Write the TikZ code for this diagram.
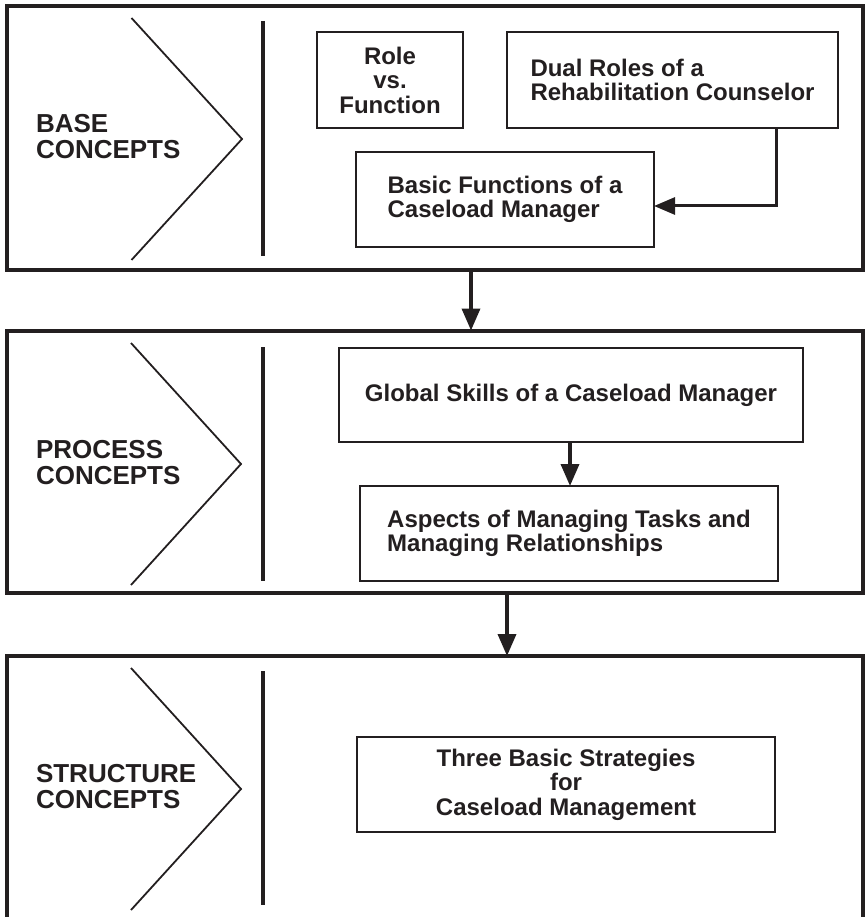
\documentclass[tikz,border=0pt]{standalone}
\usepackage{fontspec}
\setmainfont{Liberation Sans}
\usetikzlibrary{arrows.meta}
\definecolor{ink}{RGB}{35,31,32}
\begin{document}
\begin{tikzpicture}[x=1pt,y=-1pt,
  every node/.style={inner sep=0pt,outer sep=0pt},
  band/.style={draw=ink,line width=4pt,rectangle},
  conceptbox/.style={draw=ink,line width=2.2pt,rectangle,font=\fontsize{24}{24.5}\selectfont\bfseries,text=ink},
  heading/.style={anchor=west,align=left,font=\fontsize{26}{26}\selectfont\bfseries,text=ink},
  chevron/.style={draw=ink,line width=1.8pt},
  divider/.style={draw=ink,line width=3.4pt},
  flow/.style={draw=ink,line width=3.6pt,-{Triangle[length=22pt,width=18pt]}},
  innerflow/.style={draw=ink,line width=3pt,-{Triangle[length=21pt,width=17pt]}}]
\useasboundingbox (0,0) rectangle (865,917);

% three horizontal bands
\node[band,minimum width=856pt,minimum height=263.5pt] (band1) at (435,137.75) {};
\node[band,minimum width=856pt,minimum height=262.5pt] (band2) at (435,461.75) {};
\node[band,minimum width=856pt,minimum height=280pt] (band3) at (435,796) {};

% band headings
\node[heading] (base) at (36,137) {BASE\\CONCEPTS};
\node[heading] (process) at (36,463) {PROCESS\\CONCEPTS};
\node[heading] (structure) at (36,787) {STRUCTURE\\CONCEPTS};

% chevrons and dividers
\draw[chevron] (131.5,18) -- (242,139) -- (131.5,260);
\draw[chevron] (131,343) -- (241,464) -- (131,585);
\draw[chevron] (131,668) -- (241,789) -- (131,910);
\draw[divider] (263,21) -- (263,256);
\draw[divider] (263,347) -- (263,581);
\draw[divider] (263,671) -- (263,905);

% base concepts
\node[conceptbox,minimum width=146pt,minimum height=96pt,align=center] (role) at (390,80)
  {Role\\vs.\\Function};
\node[conceptbox,minimum width=331pt,minimum height=96pt,align=left] (dual) at (672.5,80)
  {Dual Roles of a\\Rehabilitation Counselor};
\node[conceptbox,minimum width=298pt,minimum height=95pt,align=left] (basic) at (505,199.5)
  {Basic Functions of a\\Caseload Manager};

% process concepts
\node[conceptbox,minimum width=464pt,minimum height=94pt] (global) at (571,395)
  {Global Skills of a Caseload Manager};
\node[conceptbox,minimum width=418pt,minimum height=95pt,align=left] (aspects) at (569,533.5)
  {Aspects of Managing Tasks and\\Managing Relationships};

% structure concepts
\node[conceptbox,minimum width=418pt,minimum height=95pt,align=center] (three) at (566,784.5)
  {Three Basic Strategies\\for\\Caseload Management};

% connectors
\coordinate (elbow) at (776,206);
\coordinate (down1) at (471,0);
\coordinate (down2) at (507,0);
\coordinate (down3) at (570,0);
\draw[innerflow] (dual.south -| elbow) -- (elbow) -- (basic.east |- elbow);
\draw[flow] (band1.south -| down1) -- (band2.north -| down1);
\draw[flow] (band2.south -| down2) -- (band3.north -| down2);
\draw[flow] (global.south -| down3) -- (aspects.north -| down3);
\end{tikzpicture}
\end{document}
